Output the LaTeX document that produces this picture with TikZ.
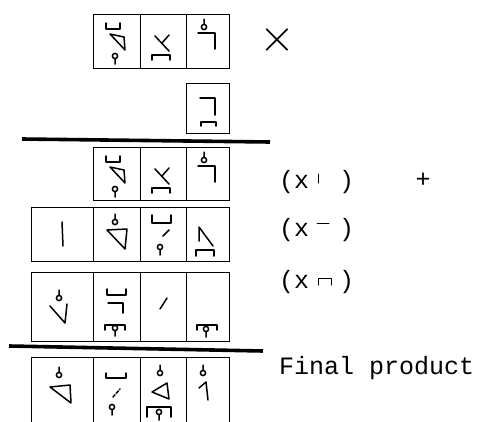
\documentclass[tikz,border=0pt]{standalone}
\usepackage{fontspec}
\setmonofont{Liberation Mono}
\usepackage{tikz}
\usetikzlibrary{positioning, calc}

% glyph parts, in cell coordinates (origin at the top left of a cell)
\newcommand\pinhi[2]{\draw[ink] (#1,#2) circle (2.6pt) (#1,#2-2.6) -- (#1,#2-8);}
\newcommand\pinlo[2]{\draw[ink] (#1,#2) circle (2.6pt) (#1,#2+2.6) -- (#1,#2+8);}
\newcommand\capbr[4]{\draw[ink] (#1,#3+#4) -- (#1,#3) -- (#2,#3) -- (#2,#3+#4);}
\newcommand\cupbr[4]{\draw[ink] (#1,#3-#4) -- (#1,#3) -- (#2,#3) -- (#2,#3-#4);}

% the three digits of the multiplicand
\newcommand\glyphtri{%
  \cupbr{13}{27}{15}{6}
  \draw[ink] (17,20) -- (31,23) -- (32,36) -- cycle;
  \pinlo{22}{42}}
\newcommand\glyphfork{%
  \draw[ink] (15,22) -- (29,37);
  \draw[ink] (29,21) -- (22,29);
  \capbr{12}{30}{41}{5}}
\newcommand\glyphhook{%
  \pinhi{18}{13}
  \draw[ink] (12,19) -- (29,19) -- (29,35);}

\begin{document}
\begin{tikzpicture}[x=1pt, y=-1pt,
  cell/.style={draw, line width=1.2pt, inner sep=0pt, anchor=north west},
  ink/.style={line width=1.5pt, line cap=round, line join=round},
  rule/.style={line width=3.6pt},
  lbl/.style={font=\ttfamily\fontsize{25}{25}\selectfont, anchor=west, inner sep=0pt}
]
  \useasboundingbox (0,0) rectangle (477,421);
  \clip (0,0) rectangle (477,421);

  % multiplicand and multiplier
  \node[cell, minimum width=47pt, minimum height=54pt] (m1) at (93,14) {};
  \node[cell, minimum width=46pt, minimum height=54pt] (m2) at (140,14) {};
  \node[cell, minimum width=43pt, minimum height=54pt] (m3) at (186,14) {};
  \begin{scope}[shift={(m1.north west)}] \glyphtri \end{scope}
  \begin{scope}[shift={(m2.north west)}] \glyphfork \end{scope}
  \begin{scope}[shift={(m3.north west)}] \glyphhook \end{scope}
  \node[font=\Huge, scale=1.85] (times) at (277,40) {$\times$};

  \node[cell, minimum width=43pt, minimum height=50pt] (d1) at (186,83) {};
  \begin{scope}[shift={(d1.north west)}]
    \draw[ink] (14,15) -- (29,15) -- (29,32);
    \capbr{15}{30}{39}{4}
  \end{scope}

  \coordinate (r1a) at (22,139);
  \coordinate (r1b) at (270,142);
  \draw[rule] (r1a) -- (r1b);

  % (x|)
  \node[cell, minimum width=47pt, minimum height=53pt] (p1) at (93,147) {};
  \node[cell, minimum width=46pt, minimum height=53pt] (p2) at (140,147) {};
  \node[cell, minimum width=43pt, minimum height=53pt] (p3) at (186,147) {};
  \begin{scope}[shift={(p1.north west)}] \glyphtri \end{scope}
  \begin{scope}[shift={(p2.north west)}] \glyphfork \end{scope}
  \begin{scope}[shift={(p3.north west)}] \glyphhook \end{scope}
  \node[lbl] (lab1) at (279,182) {(x\phantom{ii})};
  \draw[ink, line width=1pt] ([shift={(39,-8)}]lab1.west) -- ([shift={(39,1)}]lab1.west);
  \node[lbl, anchor=center] (plus) at (423,180) {+};

  % (x-)
  \node[cell, minimum width=62pt, minimum height=54pt] (q1) at (31,207) {};
  \node[cell, minimum width=47pt, minimum height=54pt] (q2) at (93,207) {};
  \node[cell, minimum width=46pt, minimum height=54pt] (q3) at (140,207) {};
  \node[cell, minimum width=43pt, minimum height=54pt] (q4) at (186,207) {};
  \begin{scope}[shift={(q1.north west)}]
    \draw[ink] (31,15) -- (32,39);
  \end{scope}
  \begin{scope}[shift={(q2.north west)}]
    \pinhi{22}{15}
    \draw[ink] (14,23) -- (34,22) -- (32,42) -- cycle;
  \end{scope}
  \begin{scope}[shift={(q3.north west)}]
    \cupbr{12}{31}{16}{8}
    \draw[ink] (23,29) -- (29,23);
    \pinlo{20}{40}
  \end{scope}
  \begin{scope}[shift={(q4.north west)}]
    \draw[ink] (13,34) -- (13,20) -- (27,39);
    \capbr{10}{28}{43}{6}
  \end{scope}
  \node[lbl] (lab2) at (279,230) {(x\phantom{ii})};
  \draw[ink, line width=1pt] ([shift={(38,-7)}]lab2.west) -- ([shift={(50,-7)}]lab2.west);

  % (x cap)
  \node[cell, minimum width=62pt, minimum height=69pt] (s1) at (31,272) {};
  \node[cell, minimum width=47pt, minimum height=69pt] (s2) at (93,272) {};
  \node[cell, minimum width=46pt, minimum height=69pt] (s3) at (140,272) {};
  \node[cell, minimum width=43pt, minimum height=69pt] (s4) at (186,272) {};
  \begin{scope}[shift={(s1.north west)}]
    \pinhi{28}{26}
    \draw[ink] (19,34) -- (34,51) -- (36,32);
  \end{scope}
  \begin{scope}[shift={(s2.north west)}]
    \cupbr{14}{33}{23}{6}
    \draw[ink] (15,31) -- (30,31) -- (30,41);
    \capbr{12}{32}{53}{5}
    \pinlo{22}{56}
  \end{scope}
  \begin{scope}[shift={(s3.north west)}]
    \draw[ink] (20,37) -- (27,26);
  \end{scope}
  \begin{scope}[shift={(s4.north west)}]
    \capbr{11}{31}{53}{5}
    \pinlo{20}{57}
  \end{scope}
  \node[lbl] (lab3) at (279,282) {(x\phantom{ii})};
  \draw[ink, line width=1pt] ([shift={(39,3)}]lab3.west) -- ([shift={(39,-4)}]lab3.west)
    -- ([shift={(52,-4)}]lab3.west) -- ([shift={(52,3)}]lab3.west);

  \coordinate (r2a) at (9,346);
  \coordinate (r2b) at (263,351);
  \draw[rule] (r2a) -- (r2b);

  % final product
  \node[cell, minimum width=62pt, minimum height=70pt] (f1) at (31,357) {};
  \node[cell, minimum width=47pt, minimum height=70pt] (f2) at (93,357) {};
  \node[cell, minimum width=46pt, minimum height=70pt] (f3) at (140,357) {};
  \node[cell, minimum width=43pt, minimum height=70pt] (f4) at (186,357) {};
  \begin{scope}[shift={(f1.north west)}]
    \pinhi{28}{18}
    \draw[ink] (19,30) -- (39,28) -- (40,46) -- cycle;
  \end{scope}
  \begin{scope}[shift={(f2.north west)}]
    \cupbr{13}{33}{21}{5}
    \draw[ink, dash pattern=on 3pt off 2pt] (20,40) -- (27,32);
    \pinlo{19}{50}
  \end{scope}
  \begin{scope}[shift={(f3.north west)}]
    \pinhi{20}{16}
    \draw[ink] (12,35) -- (27,26) -- (29,42) -- cycle;
    \capbr{7}{31}{50}{10}
    \pinlo{19}{55}
  \end{scope}
  \begin{scope}[shift={(f4.north west)}]
    \pinhi{17}{16}
    \draw[ink] (13,31) -- (20,25) -- (22,43);
  \end{scope}
  \node[lbl] (fin) at (279,368) {Final product};
\end{tikzpicture}
\end{document}
